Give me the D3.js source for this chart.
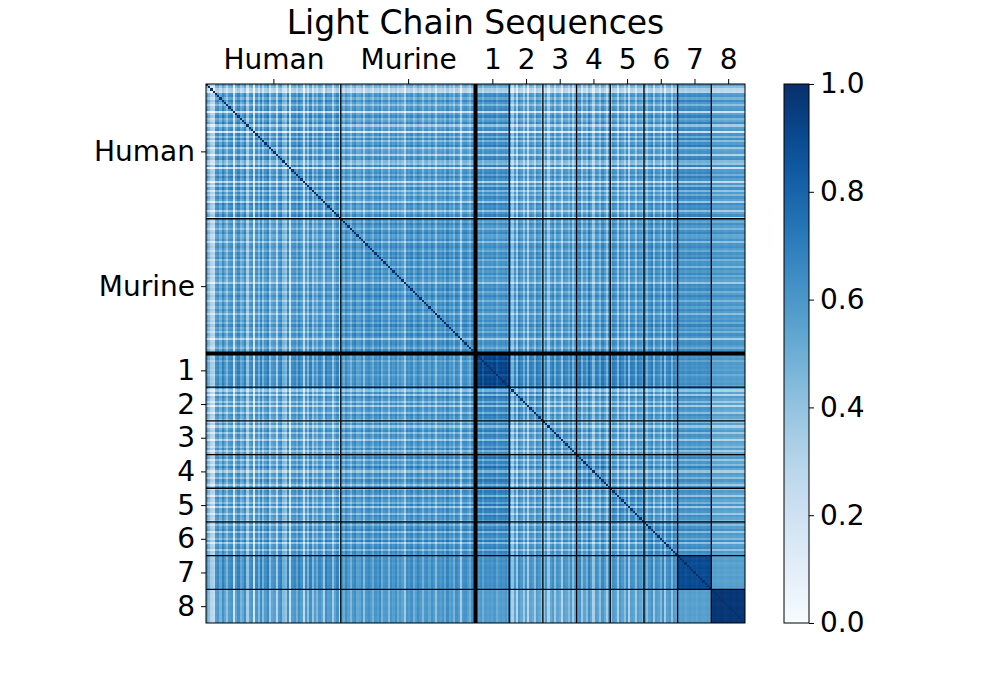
<!DOCTYPE html>
<html>
<head>
<meta charset="utf-8">
<script src="https://cdn.jsdelivr.net/npm/d3@7"></script>
<style>
  body { margin: 0; background: #fff; }
  text { font-family: "DejaVu Sans", sans-serif; fill: #000; }
</style>
</head>
<body>
<svg id="chart"></svg>
<script>
// group names, in matrix order
var groups = ["Human", "Murine", "1", "2", "3", "4", "5", "6", "7", "8"];

var blockMeans = [
  [0.48, 0.48, 0.55, 0.47, 0.47, 0.48, 0.48, 0.50, 0.56, 0.50],
  [0.48, 0.54, 0.55, 0.52, 0.52, 0.53, 0.53, 0.55, 0.57, 0.54],
  [0.55, 0.55, 0.88, 0.61, 0.60, 0.62, 0.62, 0.60, 0.60, 0.55],
  [0.47, 0.52, 0.61, 0.54, 0.50, 0.51, 0.51, 0.52, 0.55, 0.48],
  [0.47, 0.52, 0.60, 0.50, 0.54, 0.51, 0.51, 0.52, 0.55, 0.48],
  [0.48, 0.53, 0.62, 0.51, 0.51, 0.57, 0.52, 0.53, 0.56, 0.50],
  [0.48, 0.53, 0.62, 0.51, 0.51, 0.52, 0.57, 0.53, 0.56, 0.50],
  [0.50, 0.55, 0.60, 0.52, 0.52, 0.53, 0.53, 0.58, 0.58, 0.52],
  [0.56, 0.57, 0.60, 0.55, 0.55, 0.56, 0.56, 0.58, 0.88, 0.55],
  [0.50, 0.54, 0.55, 0.48, 0.48, 0.50, 0.50, 0.52, 0.55, 0.97]
];

// per-sequence shift (hundredths) giving the stripes of each group
var humanShift = [4,-8,-22,-26,6,9,-3,12,3,-10, 7,10,-30,4,12,-4,2,13,-16,6,
                  9,-34,10,-6,13,-8,7,14,-14,3, 6,-20,9,12,-7,-12,13,-30,7,10,
                  -2,13,6,-24,9,-9,12,-11,7,-5, 10,4,-18,13,6,9,-15,4,12,-26];
var murineShift = [3,-4,8,2,-9,5,9,-2,0,7, -14,5,8,3,-6,7,2,10,-7,4,
                   5,-11,7,2,8,-4,5,0,-18,7, 3,8,-6,2,10,4,-9,5,7,-2,
                   8,3,-13,5,2,7,-4,10,0,5, -7,8,3,-20,5,7,2,-6,8,4];
var g1Shift = [3,1,4,-6,3,1,3,0,4,-5,1,3,1,4,-4];
var g2Shift = [9,-15,6,-18,10,4,-12,7,-20,6,3,-13,9,4,-8];
var g3Shift = [-9,7,-16,4,9,-12,6,3,-19,7,4,-6,9,-13,3];
var g4Shift = [6,10,-13,4,-8,12,3,-17,7,4,-10,9,2,-15,6];
var g5Shift = [-12,7,4,-16,9,3,-9,10,-19,6,4,-13,7,3,-6];
var g6Shift = [7,-10,4,9,-15,6,3,-8,10,-17,4,7,-12,6,2];
var g7Shift = [1,0,2,-1,1,2,0,1,-1,2,1,0,1,2,0];
var g8Shift = [0,1,0,0,1,0,-1,0,1,0,0,1,0,0,1];

var cbarTicks = [0.0, 0.2, 0.4, 0.6, 0.8, 1.0];

var shifts = [humanShift, murineShift, g1Shift, g2Shift, g3Shift,
              g4Shift, g5Shift, g6Shift, g7Shift, g8Shift];

// flatten into sequences
var seqs = [];
var starts = [];
shifts.forEach(function(arr, g) {
  starts.push(seqs.length);
  arr.forEach(function(s) { seqs.push({ group: g, shift: s / 100 }); });
});
var N = seqs.length;
var ends = starts.slice(1).concat([N]);

var cells = [];
for (var i = 0; i < N; i++) {
  for (var j = 0; j < N; j++) {
    var v = i === j ? 1 :
      blockMeans[seqs[i].group][seqs[j].group] + seqs[i].shift + seqs[j].shift;
    cells.push({ i: i, j: j, v: Math.max(0, Math.min(1, v)) });
  }
}

var width = 1000, height = 700;
var plotLeft = 206, plotTop = 84, size = 539;

var svg = d3.select("#chart")
    .attr("width", width)
    .attr("height", height);

var x = d3.scaleLinear().domain([0, N]).range([plotLeft, plotLeft + size]);
var y = d3.scaleLinear().domain([0, N]).range([plotTop, plotTop + size]);
var color = d3.scaleSequential(d3.interpolateBlues).domain([0, 1]);

var step = size / N;

svg.append("g")
    .attr("shape-rendering", "crispEdges")
  .selectAll("rect")
  .data(cells)
  .enter()
  .append("rect")
    .attr("x", function(d) { return x(d.j); })
    .attr("y", function(d) { return y(d.i); })
    .attr("width", step + 0.4)
    .attr("height", step + 0.4)
    .attr("fill", function(d) { return color(d.v); });

// group boundaries
var bounds = starts.slice(1);
var lines = svg.append("g").attr("stroke", "#000");
bounds.forEach(function(b, k) {
  var w = k === 1 ? 4 : 1.3;
  lines.append("line")
      .attr("x1", x(b)).attr("x2", x(b))
      .attr("y1", plotTop).attr("y2", plotTop + size)
      .attr("stroke-width", w);
  lines.append("line")
      .attr("y1", y(b)).attr("y2", y(b))
      .attr("x1", plotLeft).attr("x2", plotLeft + size)
      .attr("stroke-width", w);
});
svg.append("rect")
    .attr("x", plotLeft).attr("y", plotTop)
    .attr("width", size).attr("height", size)
    .attr("fill", "none").attr("stroke", "#000").attr("stroke-width", 1);

// axes at group centres
var centres = starts.map(function(s, g) { return (s + ends[g]) / 2; });

var topAxis = d3.axisTop(x)
    .tickValues(centres)
    .tickSize(5)
    .tickPadding(10)
    .tickFormat(function(d, k) { return groups[k]; });
var gTop = svg.append("g")
    .attr("transform", "translate(0," + plotTop + ")")
    .call(topAxis);

var leftAxis = d3.axisLeft(y)
    .tickValues(centres)
    .tickSize(5)
    .tickPadding(6)
    .tickFormat(function(d, k) { return groups[k]; });
var gLeft = svg.append("g")
    .attr("transform", "translate(" + plotLeft + ",0)")
    .call(leftAxis);

[gTop, gLeft].forEach(function(g) {
  g.select(".domain").remove();
  g.selectAll("text").attr("font-size", 28).attr("font-family", "DejaVu Sans");
  g.selectAll("line").attr("stroke", "#000").attr("stroke-width", 1);
});

svg.append("text")
    .attr("x", plotLeft + size / 2)
    .attr("y", 34)
    .attr("text-anchor", "middle")
    .attr("font-size", 33)
    .text("Light Chain Sequences");

// colour bar
var cbX = 784, cbW = 25;
var cbY = d3.scaleLinear().domain([0, 1]).range([plotTop + size, plotTop]);

var grad = svg.append("defs").append("linearGradient")
    .attr("id", "cbgrad")
    .attr("x1", "0").attr("y1", "1").attr("x2", "0").attr("y2", "0");
d3.range(0, 1.0001, 0.05).forEach(function(t) {
  grad.append("stop")
      .attr("offset", t)
      .attr("stop-color", color(t));
});

svg.append("rect")
    .attr("x", cbX).attr("y", plotTop)
    .attr("width", cbW).attr("height", size)
    .attr("fill", "url(#cbgrad)")
    .attr("stroke", "#000").attr("stroke-width", 1);

var cbAxis = d3.axisRight(cbY)
    .tickValues(cbarTicks)
    .tickSize(5)
    .tickPadding(6)
    .tickFormat(d3.format(".1f"));
var gCb = svg.append("g")
    .attr("transform", "translate(" + (cbX + cbW) + ",0)")
    .call(cbAxis);
gCb.select(".domain").remove();
gCb.selectAll("text").attr("font-size", 28).attr("font-family", "DejaVu Sans");
gCb.selectAll("line").attr("stroke", "#000");
</script>
</body>
</html>
